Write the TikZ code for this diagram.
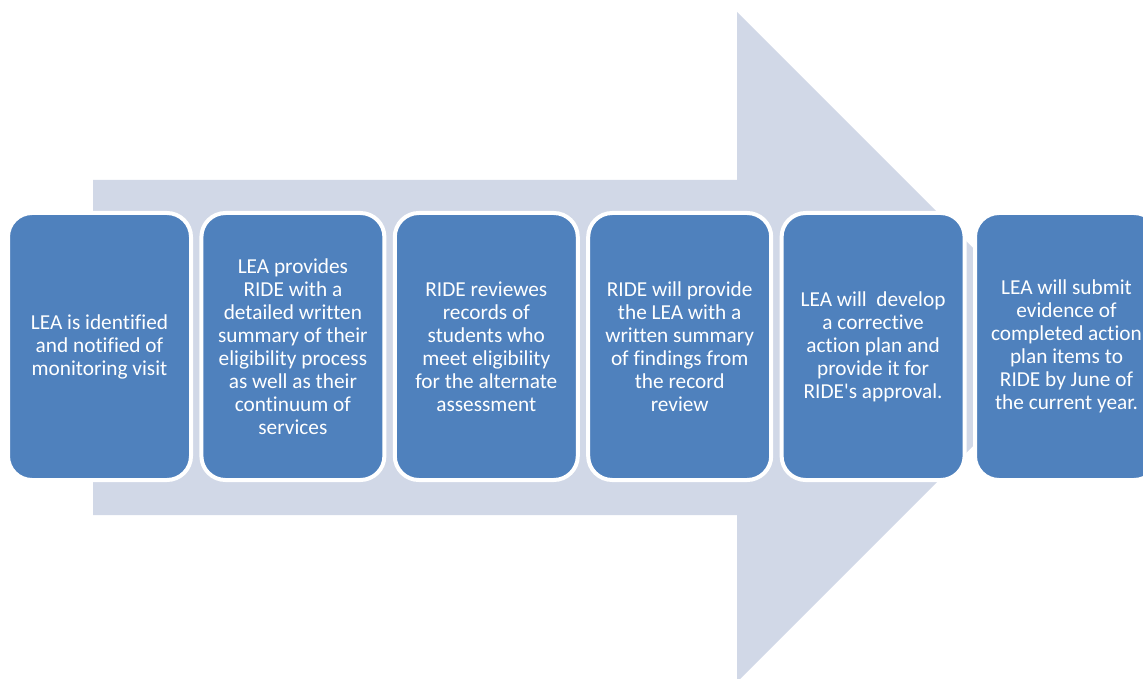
\documentclass[tikz,border=0pt]{standalone}
\usepackage{fontspec}
\setmainfont{Carlito}[Ligatures=NoCommon]
\usetikzlibrary{positioning}
\definecolor{stepblue}{HTML}{4F81BD}
\definecolor{arrowgray}{HTML}{D1D8E7}
\tikzset{
  stage/.style={draw=white, line width=4pt, fill=stepblue, rounded corners=24pt, minimum width=183pt, minimum height=267pt, outer sep=0pt, inner sep=0pt, align=center, text=white, font=\fontsize{21.3}{23}\selectfont},
  bigarrow/.style={fill=arrowgray},
}
\begin{document}
\begin{tikzpicture}[x=1pt, y=-1pt, node distance=10.4pt]
  \useasboundingbox (0,0) rectangle (1143,679);
  % background arrow
  \fill[bigarrow] (93,180) -- (737,180) -- (737,12) -- (1072,347) -- (737,682) -- (737,515) -- (93,515) -- cycle;

  \node[stage] (s1) at (99.5,346.5) {LEA is identified\\and notified of\\monitoring visit};
  \node[stage, right=of s1] (s2) {LEA provides\\RIDE with a\\detailed written\\summary of their\\eligibility process\\as well as their\\continuum of\\services};
  \node[stage, right=of s2] (s3) {RIDE reviewes\\records of\\students who\\meet eligibility\\for the alternate\\assessment};
  \node[stage, right=of s3] (s4) {RIDE will provide\\the LEA with a\\written summary\\of findings from\\the record\\review};
  \node[stage, right=of s4] (s5) {LEA will~ develop\\a corrective\\action plan and\\provide it for\\RIDE\textquotesingle s approval.};
  \node[stage, right=of s5] (s6) {LEA will submit\\evidence of\\completed action\\plan items to\\RIDE by June of\\the current year.};
\end{tikzpicture}
\end{document}
